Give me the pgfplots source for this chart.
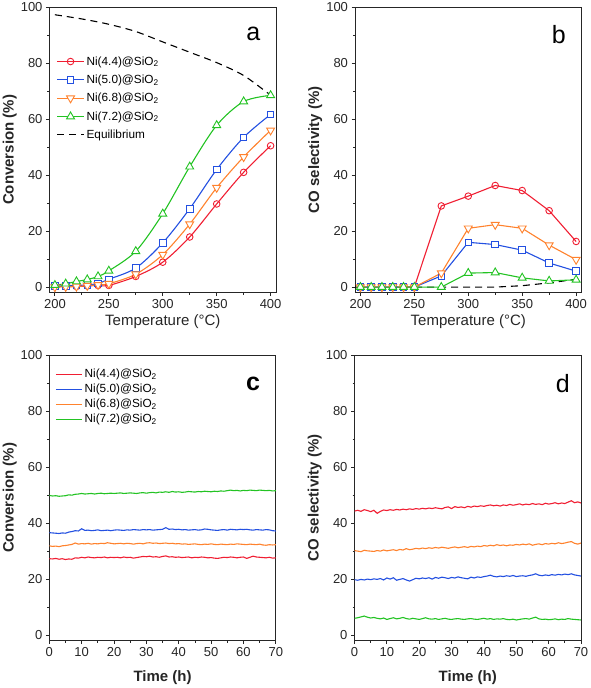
\documentclass[border=0pt]{standalone}
\usepackage{fontspec}
\setmainfont{Liberation Sans}
\usepackage{pgfplots}
\pgfplotsset{compat=1.18}
\usepackage{pgfplotstable}

\definecolor{cR}{RGB}{240,30,50}
\definecolor{cB}{RGB}{35,80,225}
\definecolor{cO}{RGB}{255,130,45}
\definecolor{cG}{RGB}{35,195,35}

% time-on-stream data (one value per hour, t = 0..70 h)
\pgfplotstableread[row sep=\\]{y\\
27.3\\27.2\\27.4\\27.1\\27.3\\27.0\\27.2\\27.1\\27.6\\27.5\\27.8\\27.6\\27.9\\27.7\\27.6\\27.8\\27.7\\27.9\\27.6\\27.8\\
27.7\\27.8\\27.6\\27.9\\27.7\\27.8\\27.5\\27.7\\27.9\\28.1\\28.0\\28.2\\27.9\\28.0\\27.8\\28.1\\28.3\\27.9\\28.0\\27.8\\
27.9\\27.7\\27.8\\27.9\\27.6\\27.8\\27.7\\27.9\\27.8\\27.6\\27.7\\27.5\\27.4\\27.6\\27.8\\27.7\\27.9\\27.8\\27.6\\27.8\\
27.9\\27.4\\27.8\\28.2\\27.9\\27.8\\27.7\\27.6\\27.8\\27.5\\27.6\\}\tRc
\pgfplotstableread[row sep=\\]{y\\
36.6\\36.5\\36.4\\36.3\\36.5\\36.4\\36.8\\37.0\\37.3\\37.2\\38.0\\37.4\\37.5\\37.3\\37.4\\37.6\\37.3\\37.4\\37.5\\37.3\\
37.5\\37.6\\37.5\\37.4\\37.6\\37.5\\37.7\\37.6\\37.5\\37.7\\37.6\\37.7\\37.5\\37.6\\37.7\\37.8\\38.4\\37.8\\37.9\\37.7\\
37.8\\37.6\\37.7\\37.5\\37.6\\37.7\\37.5\\37.6\\37.9\\37.8\\37.6\\37.5\\37.4\\37.6\\37.7\\37.5\\37.8\\37.7\\37.6\\37.8\\
37.7\\37.8\\37.6\\37.5\\37.7\\37.6\\37.5\\37.7\\37.6\\37.3\\37.2\\}\tBc
\pgfplotstableread[row sep=\\]{y\\
31.9\\31.7\\31.8\\31.6\\31.9\\32.0\\32.2\\32.4\\32.9\\32.5\\32.7\\32.6\\32.8\\32.5\\32.7\\32.6\\32.8\\32.7\\33.0\\32.8\\
32.6\\32.7\\32.8\\32.6\\32.8\\32.7\\32.5\\32.7\\32.8\\32.6\\32.9\\33.0\\32.8\\32.9\\32.7\\32.8\\32.9\\32.7\\32.8\\32.6\\
32.7\\32.5\\32.6\\32.4\\32.5\\32.6\\32.4\\32.3\\32.5\\32.4\\32.6\\32.4\\32.3\\32.5\\32.4\\32.3\\32.5\\32.4\\32.6\\32.5\\
32.4\\32.3\\32.5\\32.4\\32.3\\32.5\\32.2\\32.1\\32.3\\32.2\\32.3\\}\tOc
\pgfplotstableread[row sep=\\]{y\\
49.9\\49.7\\49.8\\49.6\\49.7\\49.8\\50.1\\50.0\\50.3\\50.4\\50.6\\50.4\\50.5\\50.6\\50.4\\50.6\\50.7\\50.5\\50.6\\50.7\\
50.6\\50.7\\50.8\\50.6\\50.7\\50.8\\50.7\\50.6\\50.8\\50.9\\50.7\\50.9\\51.0\\50.8\\51.1\\51.0\\51.2\\51.0\\51.3\\51.1\\
51.2\\51.0\\51.1\\51.3\\51.2\\51.1\\51.3\\51.2\\51.4\\51.3\\51.2\\51.4\\51.3\\51.5\\51.4\\51.6\\51.8\\51.6\\51.7\\51.5\\
51.7\\51.6\\51.8\\51.7\\51.6\\51.8\\51.7\\51.6\\51.7\\51.5\\51.6\\}\tGc
\pgfplotstableread[row sep=\\]{y\\
44.3\\44.6\\44.2\\44.8\\44.5\\44.1\\44.6\\43.5\\44.2\\44.7\\44.5\\44.8\\44.6\\44.9\\44.7\\45.0\\44.8\\45.1\\44.9\\45.2\\
45.0\\45.3\\45.1\\45.4\\45.2\\45.5\\45.3\\45.1\\45.6\\45.8\\45.2\\45.9\\45.6\\45.8\\45.5\\46.0\\45.7\\46.1\\45.9\\46.2\\
46.0\\46.3\\46.5\\46.2\\46.4\\46.1\\46.5\\46.3\\46.7\\46.4\\46.6\\46.9\\46.5\\46.8\\46.6\\47.0\\46.7\\46.9\\46.6\\47.1\\
46.8\\47.0\\47.3\\46.9\\47.2\\47.0\\47.5\\48.0\\47.3\\47.6\\47.2\\}\tRd
\pgfplotstableread[row sep=\\]{y\\
30.2\\30.0\\29.8\\30.3\\30.1\\30.0\\29.9\\30.2\\30.0\\30.4\\30.1\\30.3\\30.5\\30.2\\30.6\\30.4\\30.9\\30.5\\30.7\\31.0\\
30.8\\31.1\\30.9\\31.2\\31.0\\31.3\\31.1\\31.4\\31.2\\31.0\\31.3\\31.5\\31.2\\31.4\\31.6\\31.3\\31.7\\31.5\\31.8\\31.6\\
32.0\\31.8\\32.1\\31.9\\32.3\\32.0\\32.2\\31.9\\32.2\\32.1\\32.4\\32.2\\32.5\\32.3\\32.6\\32.1\\32.4\\32.6\\32.3\\32.7\\
32.5\\32.8\\32.6\\33.0\\32.7\\32.9\\33.2\\33.4\\32.8\\32.5\\32.9\\}\tOd
\pgfplotstableread[row sep=\\]{y\\
19.8\\19.6\\19.9\\19.7\\20.0\\19.8\\20.1\\19.9\\20.2\\19.7\\20.4\\20.0\\20.5\\19.6\\19.9\\20.2\\19.7\\19.3\\19.8\\20.3\\
20.1\\20.4\\20.2\\20.5\\20.0\\20.6\\20.3\\20.7\\20.5\\20.2\\20.6\\20.4\\20.8\\20.5\\20.3\\20.1\\20.7\\20.4\\20.8\\20.6\\
20.9\\21.1\\21.4\\21.0\\20.8\\21.1\\20.9\\21.2\\21.0\\21.3\\20.9\\21.1\\21.2\\21.0\\21.3\\21.5\\21.9\\21.4\\21.2\\21.5\\
21.3\\21.6\\21.4\\21.7\\21.5\\21.8\\21.6\\21.9\\21.5\\21.3\\21.1\\}\tBd
\pgfplotstableread[row sep=\\]{y\\
6.0\\6.2\\6.5\\6.8\\6.4\\6.1\\6.3\\6.0\\5.8\\6.1\\5.6\\5.9\\6.2\\5.8\\6.0\\6.3\\5.9\\5.7\\6.0\\5.8\\
5.6\\5.9\\6.2\\5.8\\5.7\\5.9\\5.6\\5.8\\6.0\\5.7\\5.6\\5.8\\5.9\\5.7\\5.6\\5.8\\5.9\\5.7\\5.6\\5.8\\
6.0\\5.7\\5.9\\5.6\\5.8\\5.7\\5.9\\5.6\\5.5\\5.7\\5.4\\5.6\\5.8\\5.9\\5.7\\6.1\\6.4\\5.8\\5.6\\5.7\\
5.5\\5.6\\5.8\\5.5\\5.7\\5.6\\5.9\\5.7\\5.6\\5.5\\5.4\\}\tGd

\pgfplotsset{
  panel/.style={
    scale only axis, width=226.5pt, height=285.5pt,
    anchor=south west,
    axis line style={line width=0.8pt, black!85},
    tick align=outside, tick pos=left,
    major tick length=3.5pt, minor tick length=2pt,
    tick style={line width=0.8pt, black!85},
    minor y tick num=1, minor x tick num=1,
    ymin=-2, ymax=100, ytick={0,20,...,100},
    /pgf/number format/assume math mode=true,
    tick label style={font=\fontsize{13}{15}\selectfont, text=black!85},
    label style={font=\fontsize{15}{18}\selectfont\bfseries, text=black!85},
    ylabel style={at={(axis description cs:-0.175,0.5)}, anchor=center},
  },
  tpanel/.style={panel, xmin=195, xmax=405, xtick={200,250,...,400},
    xlabel={\mdseries Temperature (°C)},
    xlabel style={at={(axis description cs:0.5,-0.102)}, anchor=center}},
  spanel/.style={panel, xmin=0, xmax=70, xtick={0,10,...,70},
    xlabel={Time (h)},
    xlabel style={at={(axis description cs:0.5,-0.128)}, anchor=center}},
  mkc/.style={line width=1.1pt, mark=o, mark size=3.3pt, mark options={solid, fill=white, line width=0.9pt}},
  mks/.style={line width=1.1pt, mark=square*, mark size=3.3pt, mark options={solid, fill=white, line width=0.9pt}},
  mkt/.style={line width=1.1pt, mark=triangle*, mark size=4.6pt, mark options={solid, fill=white, line width=0.9pt}},
  mkv/.style={line width=1.1pt, mark=triangle*, mark size=4.6pt, mark options={solid, fill=white, line width=0.9pt, rotate=180}},
  ts/.style={line width=1.1pt, no marks},
}

\begin{document}
\begin{tikzpicture}
\path[use as bounding box] (0,0) rectangle (591pt,688pt);

% ---------------- a ----------------
\begin{axis}[tpanel, at={(49.5pt,395.3pt)}, ylabel={Conversion (\%)},
  legend style={draw=none, fill=none, at={(axis description cs:0.03,0.835)}, anchor=north west,
    font=\fontsize{11.8}{13.5}\selectfont, row sep=4.3pt, inner sep=0pt},
  legend cell align=left,
  legend image code/.code={\draw[mark repeat=2,mark phase=2] plot coordinates {(0pt,0pt) (13.5pt,0pt) (27pt,0pt)};}]
\addplot[cR, mkc, smooth] coordinates {(200,0.3)(210,0.2)(220,0.2)(230,0.4)(240,0.6)(250,0.6)(275,3.8)(300,8.9)(325,17.9)(350,29.7)(375,41.0)(400,50.5)};
\addlegendentry{Ni(4.4)@SiO\textsubscript{2}}
\addplot[cB, mks, smooth] coordinates {(200,0.4)(210,0.5)(220,0.6)(230,0.8)(240,1.3)(250,2.8)(275,6.8)(300,15.8)(325,28.0)(350,42.0)(375,53.5)(400,61.7)};
\addlegendentry{Ni(5.0)@SiO\textsubscript{2}}
\addplot[cO, mkv, smooth] coordinates {(200,0.0)(210,0.1)(220,0.2)(230,0.5)(240,0.8)(250,1.2)(275,4.6)(300,11.6)(325,22.5)(350,35.5)(375,46.5)(400,56.0)};
\addlegendentry{Ni(6.8)@SiO\textsubscript{2}}
\addplot[cG, mkt, smooth] coordinates {(200,0.7)(210,1.2)(220,2.0)(230,2.7)(240,3.8)(250,5.8)(275,12.8)(300,26.2)(325,43.0)(350,57.8)(375,66.3)(400,68.5)};
\addlegendentry{Ni(7.2)@SiO\textsubscript{2}}
\addplot[black, line width=1.1pt, dash pattern=on 7pt off 5pt, smooth] coordinates {(200,97.3)(225,95.8)(250,93.9)(275,91.3)(300,87.6)(325,83.9)(350,80.2)(375,75.6)(400,68.6)(405,67.6)};
\addlegendentry{Equilibrium}
\node[font=\fontsize{25}{28}\selectfont] at (rel axis cs:0.9,0.905) {a};
\end{axis}

% ---------------- b ----------------
\begin{axis}[tpanel, at={(355pt,395.3pt)}, ylabel={CO selectivity (\%)}]
\addplot[black, line width=1.1pt, dash pattern=on 7pt off 5pt] coordinates {(195,0)(325,0)(350,0.5)(375,1.5)(400,2.8)(405,3.2)};
\addplot[cR, mkc] coordinates {(200,0)(210,0)(220,0)(230,0)(240,0)(250,0)(275,29.0)(300,32.5)(325,36.3)(350,34.5)(375,27.3)(400,16.3)};
\addplot[cB, mks] coordinates {(200,0)(210,0)(220,0)(230,0)(240,0)(250,0)(275,4.0)(300,16.0)(325,15.2)(350,13.2)(375,8.6)(400,5.7)};
\addplot[cO, mkv] coordinates {(200,0)(210,0)(220,0)(230,0)(240,0)(250,0)(275,5.0)(300,21.0)(325,22.3)(350,21.0)(375,15.0)(400,9.8)};
\addplot[cG, mkt] coordinates {(200,0)(210,0)(220,0)(230,0)(240,0)(250,0)(275,0)(300,5.0)(325,5.2)(350,3.3)(375,2.2)(400,2.6)};
\node[font=\fontsize{25}{28}\selectfont] at (rel axis cs:0.9,0.905) {b};
\end{axis}

% ---------------- c ----------------
\begin{axis}[spanel, at={(49.3pt,47.3pt)}, ylabel={Conversion (\%)},
  legend style={draw=none, fill=none, at={(axis description cs:0.025,0.958)}, anchor=north west,
    font=\fontsize{11.8}{13.5}\selectfont, row sep=0.9pt, inner sep=0pt},
  legend cell align=left,
  legend image code/.code={\draw[line width=1.5pt, mark repeat=2,mark phase=2] plot coordinates {(0pt,0pt) (13pt,0pt) (26pt,0pt)};}]
\addplot[cR, ts] table[x expr=\coordindex, y=y] {\tRc};
\addlegendentry{Ni(4.4)@SiO\textsubscript{2}}
\addplot[cB, ts] table[x expr=\coordindex, y=y] {\tBc};
\addlegendentry{Ni(5.0)@SiO\textsubscript{2}}
\addplot[cO, ts] table[x expr=\coordindex, y=y] {\tOc};
\addlegendentry{Ni(6.8)@SiO\textsubscript{2}}
\addplot[cG, ts] table[x expr=\coordindex, y=y] {\tGc};
\addlegendentry{Ni(7.2)@SiO\textsubscript{2}}
\node[font=\fontsize{25}{28}\selectfont\bfseries] at (rel axis cs:0.9,0.9) {c};
\end{axis}

% ---------------- d ----------------
\begin{axis}[spanel, at={(354.5pt,47.3pt)}, ylabel={CO selectivity (\%)}]
\addplot[cR, ts] table[x expr=\coordindex, y=y] {\tRd};
\addplot[cB, ts] table[x expr=\coordindex, y=y] {\tBd};
\addplot[cO, ts] table[x expr=\coordindex, y=y] {\tOd};
\addplot[cG, ts] table[x expr=\coordindex, y=y] {\tGd};
\node[font=\fontsize{25}{28}\selectfont] at (rel axis cs:0.92,0.9) {d};
\end{axis}
\end{tikzpicture}
\end{document}
